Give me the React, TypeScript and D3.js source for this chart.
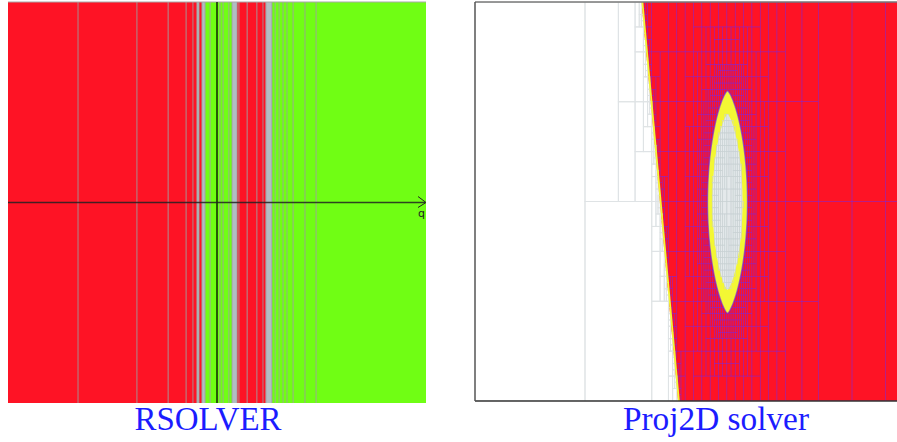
import React, { useMemo } from 'react';
import * as d3 from 'd3';

// ---------- Left panel: RSOLVER 1-D paving along q ----------
const Q_RANGE = [-10, 10];
const P_RANGE = [-1, 1];
const Q_EDGES = [
  -10, -6.65, -3.83, -2.34, -1.48, -1.15, -0.96, -0.86, -0.72, -0.57, -0.33, 0.14, 0.29, 0.57, 0.72,
  0.96, 1.05, 1.44, 1.91, 2.2, 2.34, 2.63, 2.78, 2.97, 3.16, 3.35, 3.64, 4.21, 4.74, 10,
];
const Q_STATES = [
  'in', 'in', 'in', 'in', 'in', 'in', 'und', 'in', 'und', 'out', 'out', 'out', 'out', 'out', 'und',
  'in', 'in', 'in', 'in', 'in', 'und', 'out', 'out', 'out', 'out', 'out', 'out', 'out', 'out',
];

// ---------- Right panel: Proj2D subpaving in (p1, p2) ----------
const P1_VIEW = [-2.52, 3.92];
const P2_VIEW = [-2, 2];
const ROOT_P1 = [-6.76, 3.92];
const ROOT_P2 = [-2, 2];
// straight border of the feasible region (top point, bottom point)
const BORDER_TOP = [-0.855, 2];
const BORDER_BOTTOM = [-0.49, -2];
const BORDER_BAND = 0.018;
// lens-shaped hole: centre, outer radii, inner radii, x exponent
const LENS_CENTER = [0.005, -0.005];
const LENS_OUTER = [0.2, 1.115];
const LENS_INNER = [0.15, 0.88];
const LENS_EXP = 1.4;

const RED = '#fe1325';
const GREEN = '#70fe14';
const YELLOW = '#f3f734';
const HOLE = '#e4e9eb';
const BLUE = '#1c1cff';
const SERIF = "'Liberation Serif', 'DejaVu Serif', 'Times New Roman', serif";

type Cls = 'out' | 'edge' | 'in' | 'ring' | 'hole';
type Box = { x0: number; x1: number; y0: number; y1: number; cls: Cls };

const borderX = (y: number) =>
  BORDER_TOP[0] + ((BORDER_BOTTOM[0] - BORDER_TOP[0]) * (BORDER_TOP[1] - y)) / (BORDER_TOP[1] - BORDER_BOTTOM[1]);

const absRange = (a: number, b: number): [number, number] => {
  if (a <= 0 && b >= 0) return [0, Math.max(-a, b)];
  const A = Math.abs(a), B = Math.abs(b);
  return [Math.min(A, B), Math.max(A, B)];
};

function lensRange(xlo: number, xhi: number, ylo: number, yhi: number, r: number[]): [number, number] {
  const [u0, u1] = absRange(xlo - LENS_CENTER[0], xhi - LENS_CENTER[0]);
  const [v0, v1] = absRange(ylo - LENS_CENTER[1], yhi - LENS_CENTER[1]);
  return [
    Math.pow(u0 / r[0], LENS_EXP) + (v0 / r[1]) ** 2,
    Math.pow(u1 / r[0], LENS_EXP) + (v1 / r[1]) ** 2,
  ];
}

function pointClass(x: number, y: number): Cls {
  const bx = borderX(y);
  if (x < bx) return 'out';
  if (x < bx + BORDER_BAND) return 'edge';
  const [fi] = lensRange(x, x, y, y, LENS_INNER);
  if (fi <= 1) return 'hole';
  const [fo] = lensRange(x, x, y, y, LENS_OUTER);
  if (fo <= 1) return 'ring';
  return 'in';
}

// classes met by a box; the lens test works on an inflated box (interval pessimism)
function boxClasses(x0: number, x1: number, y0: number, y1: number): Set<Cls> {
  const s = new Set<Cls>();
  const bmin = Math.min(borderX(y0), borderX(y1));
  const bmax = Math.max(borderX(y0), borderX(y1));
  if (x0 < bmax) s.add('out');
  if (x1 >= bmin && x0 < bmax + BORDER_BAND) s.add('edge');
  if (x1 >= bmin + BORDER_BAND) {
    const w = x1 - x0, h = y1 - y0;
    const ix = w * 1.8, iy = h * 1.7;
    const a = Math.max(x0 - ix, bmin), b = x1 + ix, c = y0 - iy, d = y1 + iy;
    const [fi0, fi1] = lensRange(a, b, c, d, LENS_INNER);
    const [fo0, fo1] = lensRange(a, b, c, d, LENS_OUTER);
    if (fi0 <= 1) s.add('hole');
    if (fo0 <= 1 && fi1 > 1) s.add('ring');
    if (fo1 > 1) s.add('in');
  }
  return s;
}

function pave(sx: number, sy: number): Box[] {
  const KX = 3, EPS = 11;
  const leaves: Box[] = [];
  const stack = [{ x0: ROOT_P1[0], x1: ROOT_P1[1], y0: ROOT_P2[0], y1: ROOT_P2[1] }];
  while (stack.length) {
    const b = stack.pop()!;
    const cl = boxClasses(b.x0, b.x1, b.y0, b.y1);
    if (cl.size === 1) {
      leaves.push({ ...b, cls: [...cl][0] });
      continue;
    }
    const wpx = (b.x1 - b.x0) * sx * KX;
    const hpx = (b.y1 - b.y0) * sy;
    if (Math.max(wpx, hpx) < EPS) {
      leaves.push({ ...b, cls: pointClass((b.x0 + b.x1) / 2, (b.y0 + b.y1) / 2) });
      continue;
    }
    if (wpx >= hpx) {
      const m = (b.x0 + b.x1) / 2;
      stack.push({ ...b, x1: m }, { ...b, x0: m });
    } else {
      const m = (b.y0 + b.y1) / 2;
      stack.push({ ...b, y1: m }, { ...b, y0: m });
    }
  }
  return leaves;
}

const GRID_STYLE: Record<Cls, { stroke: string; width: number; opacity: number } | null> = {
  in: { stroke: '#7a2ae6', width: 0.5, opacity: 0.6 },
  out: { stroke: '#dfe3e5', width: 1, opacity: 1 },
  hole: { stroke: '#c9d1d4', width: 0.6, opacity: 0.9 },
  ring: null,
  edge: null,
};

export default function App() {
  // left panel scales
  const q = d3.scaleLinear().domain(Q_RANGE).range([8, 426]);
  const p = d3.scaleLinear().domain(P_RANGE).range([403, 2]);
  // right panel scales
  const x = d3.scaleLinear().domain(P1_VIEW).range([475, 1119]);
  const y = d3.scaleLinear().domain(P2_VIEW).range([401, 2]);
  const sx = x(1) - x(0);
  const sy = y(0) - y(1);

  const boxes = useMemo(() => pave(sx, sy), [sx, sy]);

  const poly = d3
    .line<[number, number]>()
    .x((d) => x(d[0]))
    .y((d) => y(d[1]));

  const lensPath = (r: number[]) => {
    const pts: [number, number][] = [];
    const n = 160;
    for (let i = 0; i <= n; i++) {
      const t = -Math.PI / 2 + (Math.PI * i) / n;
      const v = Math.sin(t);
      const u = Math.pow(Math.max(0, 1 - v * v), 1 / LENS_EXP);
      pts.push([LENS_CENTER[0] + r[0] * u, LENS_CENTER[1] + r[1] * v]);
    }
    for (let i = n; i >= 0; i--) {
      const t = -Math.PI / 2 + (Math.PI * i) / n;
      const v = Math.sin(t);
      const u = Math.pow(Math.max(0, 1 - v * v), 1 / LENS_EXP);
      pts.push([LENS_CENTER[0] - r[0] * u, LENS_CENTER[1] + r[1] * v]);
    }
    return poly(pts) + 'Z';
  };

  const whiteArea: [number, number][] = [
    [ROOT_P1[0], ROOT_P2[1]],
    [borderX(ROOT_P2[1]), ROOT_P2[1]],
    [borderX(ROOT_P2[0]), ROOT_P2[0]],
    [ROOT_P1[0], ROOT_P2[0]],
  ];
  const band: [number, number][] = [
    [borderX(ROOT_P2[1]), ROOT_P2[1]],
    [borderX(ROOT_P2[1]) + BORDER_BAND, ROOT_P2[1]],
    [borderX(ROOT_P2[0]) + BORDER_BAND, ROOT_P2[0]],
    [borderX(ROOT_P2[0]), ROOT_P2[0]],
  ];

  const stateFill: Record<string, string> = { in: RED, out: GREEN, und: '#b1bec3' };

  const gridRects = (cls: Cls[]) =>
    boxes
      .filter((b) => cls.includes(b.cls))
      .map((b, i) => {
        const st = GRID_STYLE[b.cls]!;
        return (
          <rect
            key={i}
            x={x(b.x0)}
            y={y(b.y1)}
            width={x(b.x1) - x(b.x0)}
            height={y(b.y0) - y(b.y1)}
            fill="none"
            stroke={st.stroke}
            strokeWidth={st.width}
            strokeOpacity={st.opacity}
          />
        );
      });

  return (
    <svg
      width={897}
      height={442}
      style={{ position: 'absolute', left: 0, top: 0, background: '#fff' }}
    >
      <defs>
        <clipPath id="rightPanel">
          <rect x={x(P1_VIEW[0])} y={y(P2_VIEW[1])} width={x(P1_VIEW[1]) - x(P1_VIEW[0])} height={y(P2_VIEW[0]) - y(P2_VIEW[1])} />
        </clipPath>
      </defs>

      {/* RSOLVER stripes */}
      <g>
        {Q_STATES.map((s, i) => (
          <rect
            key={i}
            x={q(Q_EDGES[i])}
            y={p(P_RANGE[1])}
            width={q(Q_EDGES[i + 1]) - q(Q_EDGES[i])}
            height={p(P_RANGE[0]) - p(P_RANGE[1])}
            fill={stateFill[s]}
          />
        ))}
        {Q_EDGES.slice(1, -1).map((e, i) => (
          <line
            key={i}
            x1={q(e)}
            x2={q(e)}
            y1={p(P_RANGE[1])}
            y2={p(P_RANGE[0])}
            stroke="#9c9c9c"
            strokeOpacity={0.85}
            strokeWidth={1}
          />
        ))}
        <line x1={q(Q_RANGE[0])} x2={q(Q_RANGE[1])} y1={p(P_RANGE[1])} y2={p(P_RANGE[1])} stroke="#a8a8a8" strokeWidth={1} />
        {/* axes */}
        <line x1={q(0)} x2={q(0)} y1={p(P_RANGE[1])} y2={p(P_RANGE[0])} stroke="#000" strokeWidth={1.3} />
        <line x1={q(Q_RANGE[0])} x2={q(Q_RANGE[1]) - 1} y1={p(0)} y2={p(0)} stroke="#222" strokeOpacity={0.85} strokeWidth={1.3} />
        <polyline
          points={`${q(Q_RANGE[1]) - 8},${p(0) - 6} ${q(Q_RANGE[1])},${p(0)} ${q(Q_RANGE[1]) - 8},${p(0) + 5}`}
          fill="none"
          stroke="#222"
          strokeWidth={1}
        />
        <text x={q(Q_RANGE[1]) - 8} y={p(0) + 14} fontSize={11} fontFamily="DejaVu Sans" fill="#222">
          q
        </text>
      </g>

      {/* Proj2D subpaving */}
      <g clipPath="url(#rightPanel)">
        <rect x={x(ROOT_P1[0])} y={y(ROOT_P2[1])} width={x(ROOT_P1[1]) - x(ROOT_P1[0])} height={y(ROOT_P2[0]) - y(ROOT_P2[1])} fill={RED} />
        <path d={poly(whiteArea) + 'Z'} fill="#fff" />
        {gridRects(['in', 'out'])}
        <path d={poly(band) + 'Z'} fill={YELLOW} />
        <path d={lensPath(LENS_OUTER)} fill={YELLOW} stroke="#6a22f0" strokeOpacity={0.6} strokeWidth={1.4} />
        <path d={lensPath(LENS_INNER)} fill={HOLE} />
        {gridRects(['hole'])}
      </g>
      {/* frame */}
      <line x1={475} x2={897} y1={y(P2_VIEW[1])} y2={y(P2_VIEW[1])} stroke="#777" strokeWidth={1.5} />
      <line x1={475} x2={897} y1={y(P2_VIEW[0])} y2={y(P2_VIEW[0])} stroke="#333" strokeWidth={1.5} />
      <line x1={x(P1_VIEW[0])} x2={x(P1_VIEW[0])} y1={y(P2_VIEW[1])} y2={y(P2_VIEW[0])} stroke="#555" strokeWidth={1.5} />

      {/* titles */}
      <text x={208} y={430} textAnchor="middle" fontFamily={SERIF} fontSize={33} fill={BLUE} textLength={147} lengthAdjust="spacingAndGlyphs">
        RSOLVER
      </text>
      <text x={716} y={430} textAnchor="middle" fontFamily={SERIF} fontSize={33} fill={BLUE} textLength={186} lengthAdjust="spacingAndGlyphs">
        Proj2D solver
      </text>
    </svg>
  );
}
